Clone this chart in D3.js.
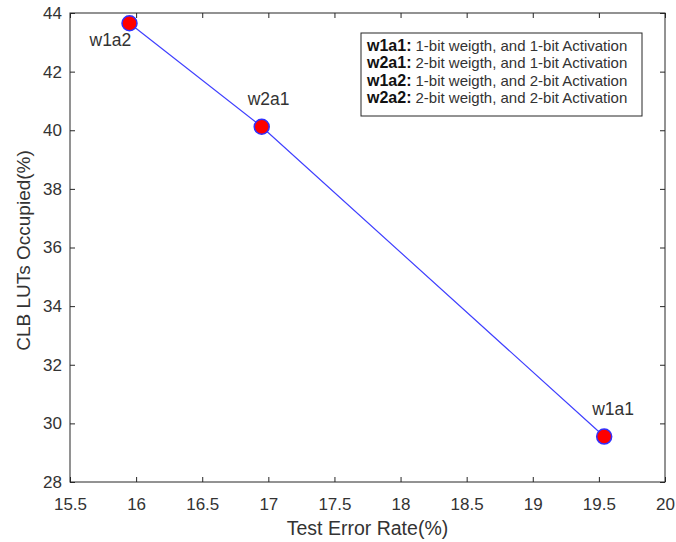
<!DOCTYPE html>
<html lang="en">
<head>
  <meta charset="UTF-8">
  <title>CLB LUTs vs Test Error</title>
  <script src="https://d3js.org/d3.v7.min.js"></script>
</head>
<body style="margin: 0; background: #fff; font-family: Arial, 'Liberation Sans', sans-serif;">
<script>
  // data
  const configs = ["w1a2", "w2a1", "w1a1"];
  const errorRate = [15.95, 16.95, 19.54];
  const lutsUsed = [43.65, 40.12, 29.55];

  const xTicks = [15.5, 16, 16.5, 17, 17.5, 18, 18.5, 19, 19.5, 20];
  const yTicks = [28, 30, 32, 34, 36, 38, 40, 42, 44];

  const legendKeys = ["w1a1:", "w2a1:", "w1a2:", "w2a2:"];
  const legendTexts = [
    "1-bit weigth, and 1-bit Activation",
    "2-bit weigth, and 1-bit Activation",
    "1-bit weigth, and 2-bit Activation",
    "2-bit weigth, and 2-bit Activation"
  ];

  const width = 676, height = 542;
  const margin = { top: 13, right: 11, bottom: 60, left: 70 };
  const innerW = width - margin.left - margin.right;
  const innerH = height - margin.top - margin.bottom;
  const axisColor = "#262626";
  const font = "Arial, 'Liberation Sans', sans-serif";

  const svg = d3.select("body").append("svg")
    .attr("width", width)
    .attr("height", height)
    .style("font-family", font);

  const g = svg.append("g")
    .attr("transform", `translate(${margin.left},${margin.top})`);

  const x = d3.scaleLinear().domain([15.5, 20]).range([0, innerW]);
  const y = d3.scaleLinear().domain([28, 44]).range([innerH, 0]);

  // axes with inward ticks
  function styleAxis(sel) {
    sel.select(".domain").remove();
    sel.selectAll(".tick line").attr("stroke", axisColor);
    sel.selectAll(".tick text")
      .attr("fill", "#333")
      .style("font-size", "17px")
      .style("font-family", font);
  }

  g.append("g")
    .attr("transform", `translate(0,${innerH})`)
    .call(d3.axisBottom(x).tickValues(xTicks).tickSizeInner(-5).tickSizeOuter(0).tickPadding(16).tickFormat(d3.format("")))
    .call(styleAxis);

  g.append("g")
    .call(d3.axisTop(x).tickValues(xTicks).tickSizeInner(-5).tickSizeOuter(0).tickFormat(""))
    .call(styleAxis);

  g.append("g")
    .call(d3.axisLeft(y).tickValues(yTicks).tickSizeInner(-5).tickSizeOuter(0).tickPadding(8))
    .call(styleAxis);

  g.append("g")
    .attr("transform", `translate(${innerW},0)`)
    .call(d3.axisRight(y).tickValues(yTicks).tickSizeInner(-5).tickSizeOuter(0).tickFormat(""))
    .call(styleAxis);

  // box
  g.append("rect")
    .attr("width", innerW)
    .attr("height", innerH)
    .attr("fill", "none")
    .attr("stroke", axisColor)
    .attr("stroke-width", 1);

  // axis labels
  svg.append("text")
    .attr("x", margin.left + innerW / 2)
    .attr("y", 535)
    .attr("text-anchor", "middle")
    .attr("fill", "#333")
    .style("font-size", "19.5px")
    .text("Test Error Rate(%)");

  svg.append("text")
    .attr("transform", "rotate(-90)")
    .attr("x", -(margin.top + innerH / 2) - 3)
    .attr("y", 30)
    .attr("text-anchor", "middle")
    .attr("fill", "#333")
    .style("font-size", "19px")
    .text("CLB LUTs Occupied(%)");

  // line + markers
  const pts = configs.map((c, i) => ({ name: c, x: errorRate[i], y: lutsUsed[i] }));

  g.append("path")
    .datum(pts)
    .attr("fill", "none")
    .attr("stroke", "#4040ff")
    .attr("stroke-width", 1.2)
    .attr("d", d3.line().x(d => x(d.x)).y(d => y(d.y)));

  g.selectAll(".dot")
    .data(pts)
    .enter().append("circle")
    .attr("class", "dot")
    .attr("cx", d => x(d.x))
    .attr("cy", d => y(d.y))
    .attr("r", 7.5)
    .attr("fill", "#ff0000")
    .attr("stroke", "#3030ff")
    .attr("stroke-width", 1.5);

  // point labels: w1a2 below-left, others above
  const labelOffset = { w1a2: [-40, 23], w2a1: [-14, -22], w1a1: [-12, -22] };
  g.selectAll(".ptlabel")
    .data(pts)
    .enter().append("text")
    .attr("class", "ptlabel")
    .attr("x", d => x(d.x) + labelOffset[d.name][0])
    .attr("y", d => y(d.y) + labelOffset[d.name][1])
    .attr("fill", "#333")
    .style("font-size", "17.5px")
    .text(d => d.name);

  // legend box
  const lg = svg.append("g").attr("transform", "translate(361,33)");
  lg.append("rect")
    .attr("width", 281)
    .attr("height", 83)
    .attr("fill", "#fff")
    .attr("stroke", axisColor)
    .attr("stroke-width", 1);

  legendKeys.forEach((k, i) => {
    const t = lg.append("text")
      .attr("x", 6)
      .attr("y", 17.5 + i * 17.5)
      .attr("fill", "#111");
    t.append("tspan").attr("font-weight", "bold").style("font-size", "16px").text(k);
    t.append("tspan").attr("dx", 4).style("font-size", "15px").attr("fill", "#333").text(legendTexts[i]);
  });
</script>
</body>
</html>
